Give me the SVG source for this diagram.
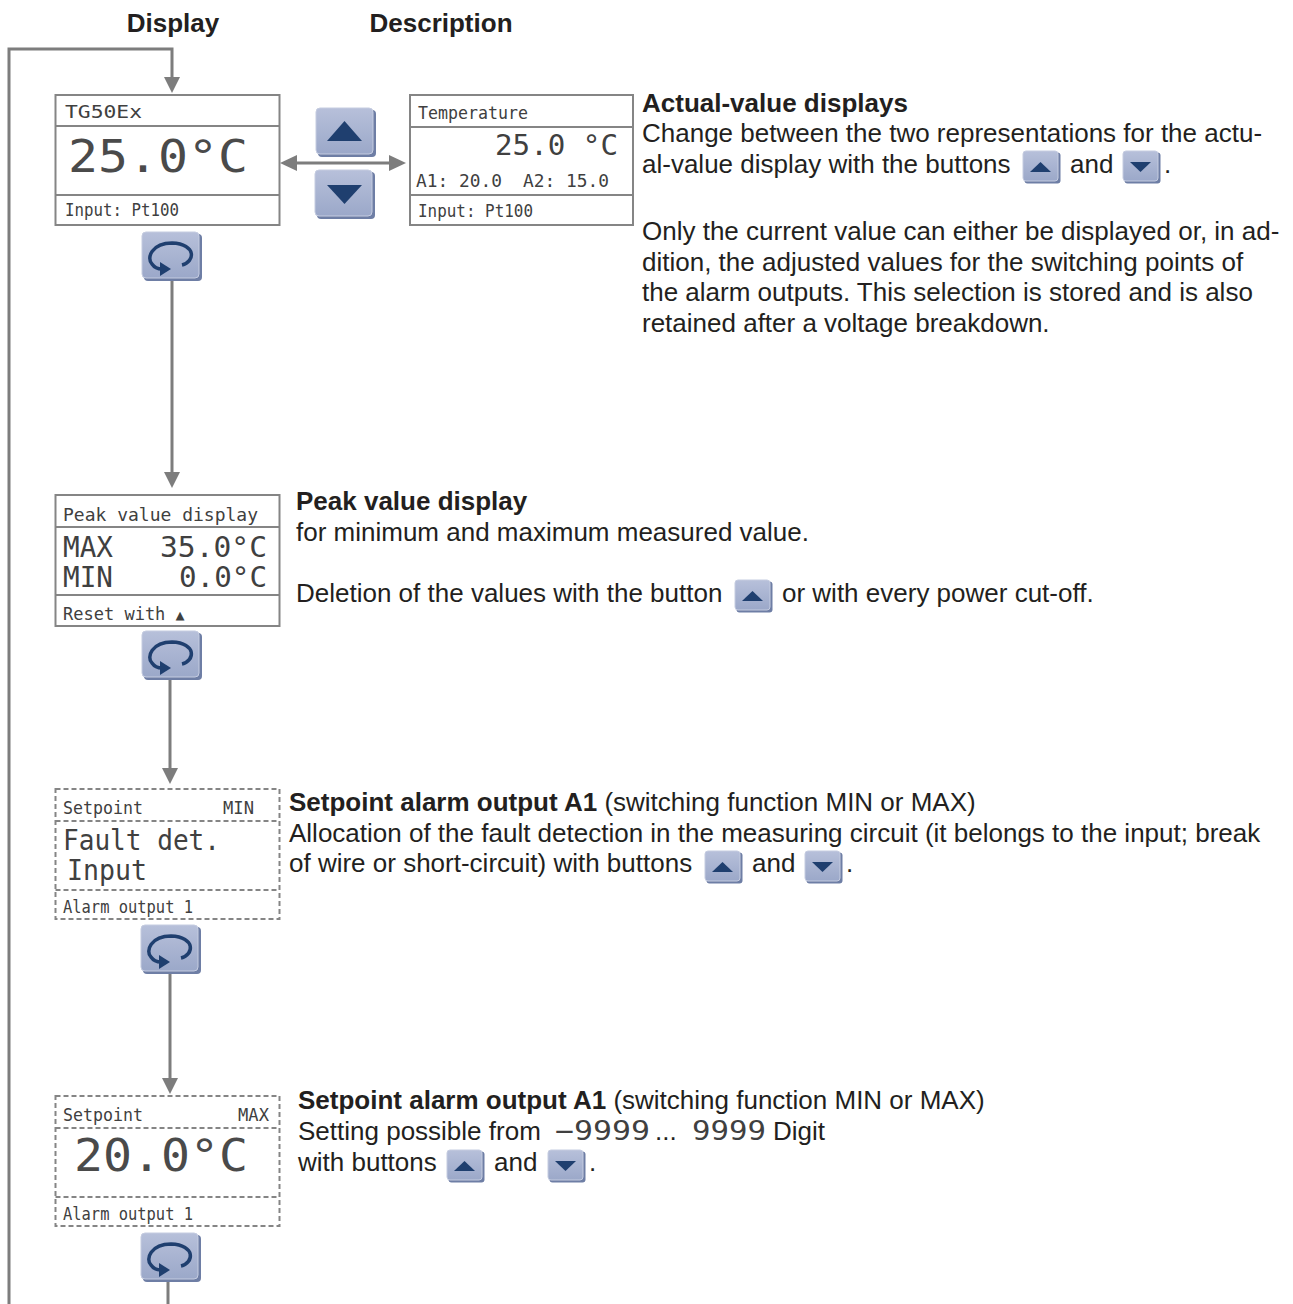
<svg xmlns="http://www.w3.org/2000/svg" xmlns:xlink="http://www.w3.org/1999/xlink" width="1293" height="1304" viewBox="0 0 1293 1304">
<style>
.box{fill:#fff;stroke:#858585;stroke-width:2}
.dbox{fill:#fff;stroke:#858585;stroke-width:2;stroke-dasharray:5 3}
.sep{stroke:#858585;stroke-width:2}
.dsep{stroke:#858585;stroke-width:2;stroke-dasharray:5 3}
.lcd{font-family:"DejaVu Sans Mono","Liberation Mono",monospace;fill:#404040}
.s16{font-size:17px}
.s28{font-size:28px}
.s44{font-size:44px;fill:#4a4a4a}
.desc{font-family:"Liberation Sans",Arial,sans-serif;font-size:26px;fill:#231f20}
.b{font-weight:bold}
.conn{stroke:#7d7d7d;stroke-width:3;fill:none}
.head{fill:#7d7d7d}
.tri{fill:#1f3f6f}
</style>
<defs>
<linearGradient id="bg" x1="0" y1="0" x2="0" y2="1">
<stop offset="0" stop-color="#b7c0da"/>
<stop offset="1" stop-color="#9ba8c9"/>
</linearGradient>
<g id="bigbase">
<rect x="2" y="2" width="58" height="47" rx="4" fill="#6e7ea5"/>
<rect x="0" y="0" width="57" height="46" rx="4" fill="url(#bg)" stroke="#c5cce0" stroke-width="1"/>
</g>
<g id="bigup"><use xlink:href="#bigbase"/><polygon class="tri" points="28.5,13 11,33 46,33"/></g>
<g id="bigdown"><use xlink:href="#bigbase"/><polygon class="tri" points="12,15 47,15 29.5,34"/></g>
<g id="smbase">
<rect x="1.5" y="1.5" width="36" height="31" rx="3" fill="#6e7ea5"/>
<rect x="0" y="0" width="35" height="30" rx="3" fill="url(#bg)" stroke="#c5cce0" stroke-width="1"/>
</g>
<g id="smup"><use xlink:href="#smbase"/><polygon class="tri" points="17.5,11 7,21 28,21"/></g>
<g id="smdown"><use xlink:href="#smbase"/><polygon class="tri" points="7,11 28,11 17.5,21"/></g>
<g id="loop">
<use xlink:href="#bigbase"/>
<path d="M 40 33 C 53 30 55 12 30 11 C 10 11 4 26 10 32 C 12 35 16 37 20 37" fill="none" stroke="#1f3f6f" stroke-width="3.5"/>
<polygon class="tri" points="18,30 29,37 18,44"/>
</g>
</defs>

<rect width="1293" height="1304" fill="#fff"/>

<g id="headers">
<text class="desc b" x="173" y="32" text-anchor="middle">Display</text>
<text class="desc b" x="441" y="32" text-anchor="middle">Description</text>
</g>

<g id="connectors">
<polyline class="conn" points="9,1304 9,49 172,49 172,78"/>
<polygon class="head" points="164,77 180,77 172,93"/>
<line class="conn" x1="295" y1="163" x2="391" y2="163"/>
<polygon class="head" points="280,163 297,155 297,171"/>
<polygon class="head" points="406,163 389,155 389,171"/>
<line class="conn" x1="172" y1="279" x2="172" y2="473"/>
<polygon class="head" points="164,472 180,472 172,488"/>
<line class="conn" x1="170" y1="678" x2="170" y2="769"/>
<polygon class="head" points="162,768 178,768 170,784"/>
<line class="conn" x1="170" y1="972" x2="170" y2="1079"/>
<polygon class="head" points="162,1078 178,1078 170,1094"/>
<line class="conn" x1="168" y1="1279" x2="168" y2="1304"/>
</g>

<g id="node-actual">
<rect class="box" x="55.5" y="95" width="224" height="130"/>
<line class="sep" x1="55.5" y1="126" x2="279.5" y2="126"/>
<line class="sep" x1="55.5" y1="195" x2="279.5" y2="195"/>
<text class="lcd s16" x="65" y="118" textLength="77" lengthAdjust="spacingAndGlyphs">TG50Ex</text>
<text class="lcd s44" x="68" y="172" textLength="180" lengthAdjust="spacingAndGlyphs">25.0°C</text>
<text class="lcd s16" x="65" y="216" textLength="114" lengthAdjust="spacingAndGlyphs">Input: Pt100</text>
</g>

<g id="node-buttons">
<use xlink:href="#bigup" x="316" y="108"/>
<use xlink:href="#bigdown" x="315" y="170"/>
</g>

<g id="node-actual2">
<rect class="box" x="410" y="95" width="223" height="130"/>
<line class="sep" x1="410" y1="127" x2="633" y2="127"/>
<line class="sep" x1="410" y1="195" x2="633" y2="195"/>
<text class="lcd s16" x="418" y="119" textLength="110" lengthAdjust="spacingAndGlyphs">Temperature</text>
<text class="lcd s28" x="495" y="155" textLength="123" lengthAdjust="spacingAndGlyphs">25.0 °C</text>
<text class="lcd s16" x="416" y="187" textLength="86" lengthAdjust="spacingAndGlyphs">A1: 20.0</text>
<text class="lcd s16" x="523" y="187" textLength="86" lengthAdjust="spacingAndGlyphs">A2: 15.0</text>
<text class="lcd s16" x="418" y="217" textLength="115" lengthAdjust="spacingAndGlyphs">Input: Pt100</text>
</g>

<g id="loop1"><use xlink:href="#loop" x="142" y="232"/></g>

<g id="desc-actual">
<text class="desc b" x="642" y="112">Actual-value displays</text>
<text class="desc" x="642" y="142">Change between the two representations for the actu-</text>
<text class="desc" x="642" y="173">al-value display with the buttons</text>
<use xlink:href="#smup" x="1023" y="151"/>
<text class="desc" x="1070" y="173">and</text>
<use xlink:href="#smdown" x="1123" y="151"/>
<text class="desc" x="1164" y="173">.</text>
<text class="desc" x="642" y="240">Only the current value can either be displayed or, in ad-</text>
<text class="desc" x="642" y="271">dition, the adjusted values for the switching points of</text>
<text class="desc" x="642" y="301">the alarm outputs. This selection is stored and is also</text>
<text class="desc" x="642" y="332">retained after a voltage breakdown.</text>
</g>

<g id="node-peak">
<rect class="box" x="55.5" y="495" width="224" height="131"/>
<line class="sep" x1="55.5" y1="527" x2="279.5" y2="527"/>
<line class="sep" x1="55.5" y1="595" x2="279.5" y2="595"/>
<text class="lcd s16" x="63" y="521" textLength="195" lengthAdjust="spacingAndGlyphs">Peak value display</text>
<text class="lcd s28" x="63" y="557" textLength="50" lengthAdjust="spacingAndGlyphs">MAX</text>
<text class="lcd s28" x="160" y="557" textLength="107" lengthAdjust="spacingAndGlyphs">35.0°C</text>
<text class="lcd s28" x="63" y="587" textLength="50" lengthAdjust="spacingAndGlyphs">MIN</text>
<text class="lcd s28" x="179" y="587" textLength="88" lengthAdjust="spacingAndGlyphs">0.0°C</text>
<text class="lcd s16" x="63" y="620">Reset with <tspan font-size="15">▲</tspan></text>
</g>

<g id="loop2"><use xlink:href="#loop" x="142" y="631"/></g>

<g id="desc-peak">
<text class="desc b" x="296" y="510">Peak value display</text>
<text class="desc" x="296" y="541">for minimum and maximum measured value.</text>
<text class="desc" x="296" y="602">Deletion of the values with the button</text>
<use xlink:href="#smup" x="735" y="580"/>
<text class="desc" x="782" y="602">or with every power cut-off.</text>
</g>

<g id="node-setmin">
<rect class="dbox" x="55.5" y="789" width="224" height="130"/>
<line class="dsep" x1="55.5" y1="821" x2="279.5" y2="821"/>
<line class="dsep" x1="55.5" y1="890" x2="279.5" y2="890"/>
<text class="lcd s16" x="63" y="814" textLength="80" lengthAdjust="spacingAndGlyphs">Setpoint</text>
<text class="lcd s16" x="223" y="814" textLength="31" lengthAdjust="spacingAndGlyphs">MIN</text>
<text class="lcd s28" x="63" y="850" textLength="157" lengthAdjust="spacingAndGlyphs">Fault det.</text>
<text class="lcd s28" x="67" y="880" textLength="80" lengthAdjust="spacingAndGlyphs">Input</text>
<text class="lcd s16" x="63" y="913" textLength="130" lengthAdjust="spacingAndGlyphs">Alarm output 1</text>
</g>

<g id="loop3"><use xlink:href="#loop" x="141" y="925"/></g>

<g id="desc-setmin">
<text class="desc" x="289" y="811"><tspan class="b">Setpoint alarm output A1</tspan> (switching function MIN or MAX)</text>
<text class="desc" x="289" y="842">Allocation of the fault detection in the measuring circuit (it belongs to the input; break</text>
<text class="desc" x="289" y="872">of wire or short-circuit) with buttons</text>
<use xlink:href="#smup" x="705" y="851"/>
<text class="desc" x="752" y="872">and</text>
<use xlink:href="#smdown" x="805" y="851"/>
<text class="desc" x="846" y="872">.</text>
</g>

<g id="node-setmax">
<rect class="dbox" x="55.5" y="1096" width="224" height="130"/>
<line class="dsep" x1="55.5" y1="1128" x2="279.5" y2="1128"/>
<line class="dsep" x1="55.5" y1="1197" x2="279.5" y2="1197"/>
<text class="lcd s16" x="63" y="1121" textLength="80" lengthAdjust="spacingAndGlyphs">Setpoint</text>
<text class="lcd s16" x="238" y="1121" textLength="31" lengthAdjust="spacingAndGlyphs">MAX</text>
<text class="lcd s44" x="74" y="1171" textLength="174" lengthAdjust="spacingAndGlyphs">20.0°C</text>
<text class="lcd s16" x="63" y="1220" textLength="130" lengthAdjust="spacingAndGlyphs">Alarm output 1</text>
</g>

<g id="loop4"><use xlink:href="#loop" x="141" y="1233"/></g>

<g id="desc-setmax">
<text class="desc" x="298" y="1109"><tspan class="b">Setpoint alarm output A1</tspan> (switching function MIN or MAX)</text>
<text class="desc" x="298" y="1140">Setting possible from</text>
<text class="lcd" font-size="26" x="555" y="1140" textLength="95" lengthAdjust="spacingAndGlyphs">−9999</text>
<text class="desc" x="655" y="1140">...</text>
<text class="lcd" font-size="26" x="692" y="1140" textLength="74" lengthAdjust="spacingAndGlyphs">9999</text>
<text class="desc" x="773" y="1140">Digit</text>
<text class="desc" x="298" y="1171">with buttons</text>
<use xlink:href="#smup" x="447" y="1150"/>
<text class="desc" x="494" y="1171">and</text>
<use xlink:href="#smdown" x="548" y="1150"/>
<text class="desc" x="589" y="1171">.</text>
</g>
</svg>
